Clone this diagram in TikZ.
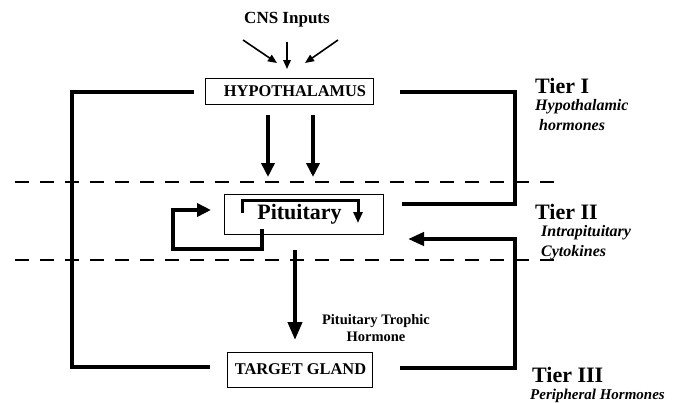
\documentclass[tikz,border=0pt]{standalone}
\usepackage{fontspec}
\setmainfont{Liberation Serif}
\usetikzlibrary{arrows.meta}
\begin{document}
\begin{tikzpicture}[x=1pt,y=-1pt,
  box/.style={draw,line width=0.8pt,inner sep=0pt},
  txt/.style={inner sep=0pt,font=\fontsize{16.4}{18}\selectfont\bfseries},
  tier/.style={inner sep=0pt,anchor=base west,font=\fontsize{22}{24}\selectfont\bfseries},
  sub/.style={inner sep=0pt,anchor=base west,font=\fontsize{16}{18}\selectfont\bfseries\itshape},
  thick line/.style={line width=4.5pt},
  bigarrow/.style={line width=4pt,-{Triangle[length=18pt,width=14pt]}},
  midarrow/.style={line width=4pt,-{Triangle[length=14pt,width=13pt]}},
  smallarrow/.style={line width=3pt,-{Triangle[length=11pt,width=9pt]}},
  cnsarrow/.style={line width=1.6pt,-{Triangle[length=9pt,width=7.5pt]}},
  dash line/.style={line width=1.5pt,dash pattern=on 14pt off 11pt}]
\useasboundingbox (0,0) rectangle (680,402);
% boxes
\node[box,minimum width=168pt,minimum height=26pt] (hyp) at (289,91) {};
\node[txt] (hyptxt) at (295,91) {HYPOTHALAMUS};
\node[box,minimum width=159pt,minimum height=40pt] (pit) at (303.5,214) {};
\node[txt,font=\fontsize{22}{24}\selectfont\bfseries] (pittxt) at (299.5,214) {Pituitary};
\node[box,minimum width=145pt,minimum height=35pt] (tg) at (299.5,369.5) {};
\node[txt] (tgtxt) at (300.5,369.5) {TARGET GLAND};
% texts
\node[txt,font=\fontsize{17}{19}\selectfont\bfseries] (cns) at (287,20) {CNS Inputs};
\node[txt,font=\fontsize{14.5}{17}\selectfont\bfseries,align=center] (pth) at (376,328) {Pituitary Trophic\\Hormone};
\node[tier] (t1) at (535,93) {Tier I};
\node[sub] (t1a) at (535,110) {Hypothalamic};
\node[sub] (t1b) at (539,130) {hormones};
\node[tier] (t2) at (535,219) {Tier II};
\node[sub] (t2a) at (541,236) {Intrapituitary};
\node[sub] (t2b) at (541,256) {Cytokines};
\node[tier] (t3) at (532,382) {Tier III};
\node[sub,font=\fontsize{15}{17}\selectfont\bfseries\itshape] (t3a) at (530,399) {Peripheral Hormones};
% coordinates
\coordinate (c1s) at (243,40); \coordinate (c1e) at (277,63);
\coordinate (c2s) at (287,42); \coordinate (c2e) at (287,69);
\coordinate (c3s) at (338,40); \coordinate (c3e) at (305,63);
\coordinate (h1s) at (268,115); \coordinate (h1e) at (268,177);
\coordinate (h2s) at (313,115); \coordinate (h2e) at (313,177);
\coordinate (ps) at (295,250); \coordinate (pe) at (295,340);
\coordinate (lbA) at (192,92); \coordinate (lbB) at (208,367);
\coordinate (rbA) at (400,92); \coordinate (rbB) at (402,204);
\coordinate (rcA) at (400,368); \coordinate (rcB) at (408,239);
\coordinate (lpA) at (262,229); \coordinate (lpB) at (211,210);
\coordinate (ipA) at (242,213); \coordinate (ipB) at (358,223);
\coordinate (d1a) at (15,182); \coordinate (d1b) at (562,182);
\coordinate (d2a) at (15,260); \coordinate (d2b) at (562,260);
% dashed lines
\draw[dash line] (d1a) -- (d1b);
\draw[dash line] (d2a) -- (d2b);
% CNS arrows
\draw[cnsarrow] (c1s) -- (c1e);
\draw[cnsarrow] (c2s) -- (c2e);
\draw[cnsarrow] (c3s) -- (c3e);
% main arrows
\draw[midarrow] (h1s) -- (h1e);
\draw[midarrow] (h2s) -- (h2e);
\draw[bigarrow] (ps) -- (pe);
% brackets
\draw[thick line,line cap=rect] (lbA) -- (72,92) -- (72,367) -- (lbB);
\draw[thick line] (rbA) -- (515,92) -- (515,204) -- (rbB);
\draw[line width=4pt,-{Triangle[length=16pt,width=13pt]}] (rcA) -- (515,368) -- (515,239) -- (rcB);
% loops
\draw[midarrow] (lpA) -- (262,249) -- (173,249) -- (173,210) -- (lpB);
\draw[smallarrow] (ipA) -- (242,200) -- (358,200) -- (ipB);
\end{tikzpicture}
\end{document}
